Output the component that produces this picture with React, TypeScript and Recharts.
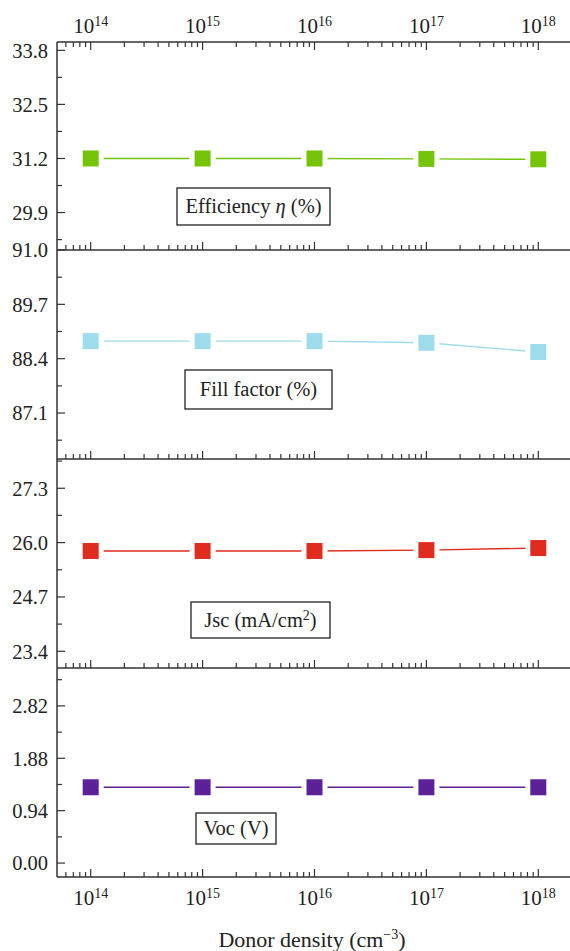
import React from "react";
import { LineChart, Line, XAxis, YAxis } from "recharts";

// donor density values (cm^-3)
const densities = [1e14, 1e15, 1e16, 1e17, 1e18];

// series
const efficiency = [31.2, 31.2, 31.2, 31.19, 31.18];
const fillFactor = [88.82, 88.82, 88.82, 88.78, 88.56];
const jsc = [25.8, 25.8, 25.8, 25.82, 25.87];
const voc = [1.36, 1.36, 1.36, 1.36, 1.36];

// y tick labels for each panel (major) and the minor ticks in between
const effTicks = [29.9, 31.2, 32.5, 33.8];
const effMinor = [29.25, 30.55, 31.85, 33.15];
const ffTicks = [87.1, 88.4, 89.7, 91.0];
const ffMinor = [86.45, 87.75, 89.05, 90.35];
const jscTicks = [23.4, 24.7, 26.0, 27.3];
const jscMinor = [24.05, 25.35, 26.65, 27.95];
const vocTicks = [0.0, 0.94, 1.88, 2.82];
const vocMinor = [0.47, 1.41, 2.35, 3.29];

const X_DOMAIN = [5e13, 2e18];
const AXIS = "#333";
const FONT = "'Liberation Serif', 'DejaVu Serif', serif";
const TXT = "#222";

// log ticks: 1..9 x 10^n inside the domain
const xTicks: number[] = [];
for (let e = 13; e <= 18; e++) {
  for (let m = 1; m <= 9; m++) {
    const v = m * Math.pow(10, e);
    if (v > X_DOMAIN[0] && v <= X_DOMAIN[1]) xTicks.push(v);
  }
}

const isDecade = (v: number) => {
  const lg = Math.log10(v);
  return Math.abs(lg - Math.round(lg)) < 1e-6;
};

const xTick = (side: "top" | "bottom", labels: boolean) => (props: any) => {
  const { x, y, payload } = props;
  const major = isDecade(payload.value);
  const dir = side === "top" ? 1 : -1;
  const exp = Math.round(Math.log10(payload.value));
  return (
    <g>
      <line x1={x} x2={x} y1={y} y2={y + dir * (major ? 8 : 5)} stroke={AXIS} strokeWidth={1.2} />
      {labels && major && (
        <text x={x} y={side === "top" ? y - 9 : y + 28} textAnchor="middle" fontFamily={FONT} fontSize={21} fill={TXT}>
          10<tspan dy={-7} fontSize={14}>{exp}</tspan>
        </text>
      )}
    </g>
  );
};

const yTick = (majors: number[], digits: number) => (props: any) => {
  const { x, y, payload } = props;
  const major = majors.some((m) => Math.abs(m - payload.value) < 1e-6);
  return (
    <g>
      <line x1={x} x2={x + (major ? 8 : 5)} y1={y} y2={y} stroke={AXIS} strokeWidth={1.2} />
      {major && (
        <text x={x - 9} y={y} dy="0.36em" textAnchor="end" fontFamily={FONT} fontSize={20.5} fill={TXT}>
          {payload.value.toFixed(digits)}
        </text>
      )}
    </g>
  );
};

const square = (color: string) => (props: any) => {
  const { cx, cy, index } = props;
  return (
    <g key={`sq-${index}`}>
      <rect x={cx - 13} y={cy - 13} width={26} height={26} fill="#fff" />
      <rect x={cx - 8} y={cy - 8} width={16} height={16} fill={color} />
    </g>
  );
};

type PanelProps = {
  values: number[];
  color: string;
  domain: number[];
  majors: number[];
  minors: number[];
  digits: number;
  plotTop: number;
  plotBottom: number;
  first?: boolean;
  last?: boolean;
};

function Panel({ values, color, domain, majors, minors, digits, plotTop, plotBottom, first, last }: PanelProps) {
  const rows = densities.map((d, i) => ({ x: d, v: values[i] }));
  const pad = first ? 0 : 14;
  const topAxisH = first ? plotTop : 0;
  const bottomH = last ? 74 : 2;
  const divTop = first ? 0 : plotTop - pad;
  const height = plotBottom - divTop + bottomH;
  return (
    <div style={{ position: "absolute", left: 0, top: divTop }}>
      <LineChart width={573} height={height} data={rows} margin={{ top: pad, right: 1, bottom: 0, left: 0 }}>
        {first && (
          <XAxis
            xAxisId="t"
            orientation="top"
            dataKey="x"
            type="number"
            scale="log"
            domain={X_DOMAIN}
            allowDataOverflow
            ticks={xTicks}
            interval={0}
            height={topAxisH}
            tickLine={false}
            tickSize={0}
            tickMargin={0}
            axisLine={{ stroke: AXIS, strokeWidth: 1.5 }}
            tick={xTick("top", true)}
          />
        )}
        <XAxis
          xAxisId="b"
          orientation="bottom"
          dataKey="x"
          type="number"
          scale="log"
          domain={X_DOMAIN}
          allowDataOverflow
          ticks={xTicks}
          interval={0}
          height={bottomH}
          tickLine={false}
          tickSize={0}
          tickMargin={0}
          axisLine={{ stroke: AXIS, strokeWidth: 1.5 }}
          tick={xTick("bottom", !!last)}
        />
        <YAxis
          type="number"
          domain={domain}
          allowDataOverflow
          ticks={[...majors, ...minors].sort((a, b) => a - b)}
          interval={0}
          width={57}
          tickLine={false}
          tickSize={0}
          tickMargin={0}
          axisLine={{ stroke: AXIS, strokeWidth: 1.5 }}
          tick={yTick(majors, digits)}
        />
        <Line
          xAxisId="b"
          type="linear"
          dataKey="v"
          stroke={color}
          strokeWidth={1.4}
          dot={square(color)}
          activeDot={false}
          isAnimationActive={false}
        />
      </LineChart>
    </div>
  );
}

function Box({ x, y, w, h, children }: { x: number; y: number; w: number; h: number; children: React.ReactNode }) {
  return (
    <g>
      <rect x={x} y={y} width={w} height={h} fill="#fff" stroke={TXT} strokeWidth={1.3} />
      <text x={x + w / 2} y={y + h / 2} dy="0.33em" textAnchor="middle" fontFamily={FONT} fontSize={20.5} fill={TXT}>
        {children}
      </text>
    </g>
  );
}

export default function App() {
  return (
    <div style={{ position: "absolute", left: 0, top: 0, width: 570, height: 951, overflow: "hidden", background: "#fff" }}>
      <Panel values={efficiency} color="#74c50a" domain={[29, 34]} majors={effTicks} minors={effMinor} digits={1} plotTop={42} plotBottom={250} first />
      <Panel values={fillFactor} color="#9ddcea" domain={[86, 91]} majors={ffTicks} minors={ffMinor} digits={1} plotTop={250} plotBottom={459} />
      <Panel values={jsc} color="#e02b1f" domain={[23, 28]} majors={jscTicks} minors={jscMinor} digits={1} plotTop={459} plotBottom={668} />
      <Panel values={voc} color="#5c2199" domain={[-0.25, 3.5]} majors={vocTicks} minors={vocMinor} digits={2} plotTop={668} plotBottom={877} last />
      <svg width={570} height={951} style={{ position: "absolute", left: 0, top: 0, pointerEvents: "none" }}>
        <Box x={177} y={188} w={153} h={37}>
          Efficiency <tspan fontStyle="italic">η</tspan> (%)
        </Box>
        <Box x={185} y={370} w={147} h={39}>
          Fill factor (%)
        </Box>
        <Box x={191} y={602} w={139} h={36}>
          Jsc (mA/cm<tspan dy={-7} fontSize={14}>2</tspan>
          <tspan dy={7}>)</tspan>
        </Box>
        <Box x={196} y={813} w={80} h={31}>
          Voc (V)
        </Box>
        <text x={312} y={947} textAnchor="middle" fontFamily={FONT} fontSize={22} fill={TXT}>
          Donor density (cm<tspan dy={-8} fontSize={14}>−3</tspan>
          <tspan dy={8}>)</tspan>
        </text>
      </svg>
    </div>
  );
}
